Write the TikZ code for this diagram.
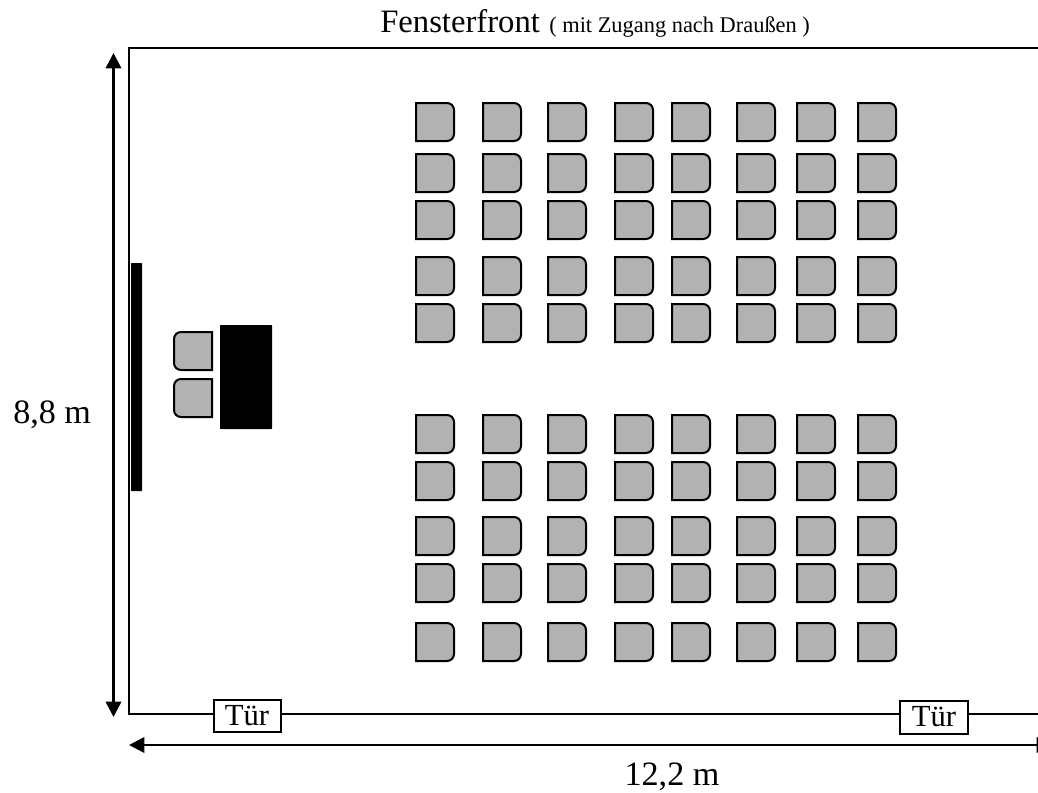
\documentclass[tikz,border=0pt]{standalone}
\usepackage{fontspec}
\setmainfont{Liberation Serif}
\usetikzlibrary{arrows.meta}
\tikzset{
  x=0.75pt,y=-0.75pt,
  wall/.style={line width=1.5pt},
  dimline/.style={line width=1.9pt,{Triangle[length=11.5pt,width=11.5pt]}-{Triangle[length=11.5pt,width=11.5pt]}},
  seat/.style={draw=black,fill=black!30,line width=1.5pt},
  solidblock/.style={fill=black,rounded corners=0.5pt},
  doorbox/.style={draw=black,fill=white,line width=1.5pt,inner sep=0pt,anchor=north west,font=\fontsize{23}{24}\selectfont},
}
\def\chairR#1#2{%
  \path[seat] (#1,#2) -- (#1+31,#2) arc[start angle=90,end angle=0,radius=5.25pt] -- (#1+38,#2+31) arc[start angle=0,end angle=-90,radius=5.25pt] -- (#1,#2+38) -- cycle;}
\def\chairL#1#2{%
  \path[seat] (#1+38,#2) -- (#1+7,#2) arc[start angle=90,end angle=180,radius=5.25pt] -- (#1,#2+31) arc[start angle=180,end angle=270,radius=5.25pt] -- (#1+38,#2+38) -- cycle;}
\begin{document}
\begin{tikzpicture}
\useasboundingbox (0,0) rectangle (1038,792);
% door boxes
\node[doorbox,minimum width=50.25pt,minimum height=24pt] (door1) at (212.5,698.5) {Tür};
\node[doorbox,minimum width=51pt,minimum height=24.75pt] (door2) at (899,699.5) {Tür};
\coordinate (roomTR) at (1038,48);
\coordinate (roomTL) at (129,48);
\coordinate (roomBL) at (129,714);
\coordinate (roomBR) at (1038,714);
\draw[wall] (roomTR) -- (roomTL) -- (roomBL) -- (door1.west |- roomBL);
\draw[wall] (door1.east |- roomBL) -- (door2.west |- roomBL);
\draw[wall] (door2.east |- roomBL) -- (roomBR);
% dimensions
\coordinate (dimVtop) at (113.5,53);
\coordinate (dimVbot) at (113.5,717);
\coordinate (dimHl) at (129,745);
\coordinate (dimHr) at (1052,745);
\draw[dimline] (dimVtop) -- (dimVbot);
\draw[dimline] (dimHl) -- (dimHr);
% board and desk
\fill[solidblock] (131,263) rectangle (142,491);
\fill[solidblock] (220,325) rectangle (272,429);
\chairL{174}{332}
\chairL{174}{379}
% audience
\foreach \cx in {416,483,548,615,672,737,797,858}
  \foreach \cy in {103,154,201,257,304,415,462,517,564,623}
    {\chairR{\cx}{\cy}}
% labels
\node[anchor=base west,inner sep=0pt,font=\fontsize{24.5}{28}\selectfont] (title) at (380,33) {Fensterfront\kern 7pt{\fontsize{16.8}{18}\selectfont ( mit Zugang nach Draußen )}};
\node[anchor=base west,inner sep=0pt,font=\fontsize{25.6}{28}\selectfont] (height) at (13,423) {8,8 m};
\node[anchor=base,inner sep=0pt,font=\fontsize{25.6}{28}\selectfont] (width) at (672,785) {12,2 m};
\end{tikzpicture}
\end{document}
